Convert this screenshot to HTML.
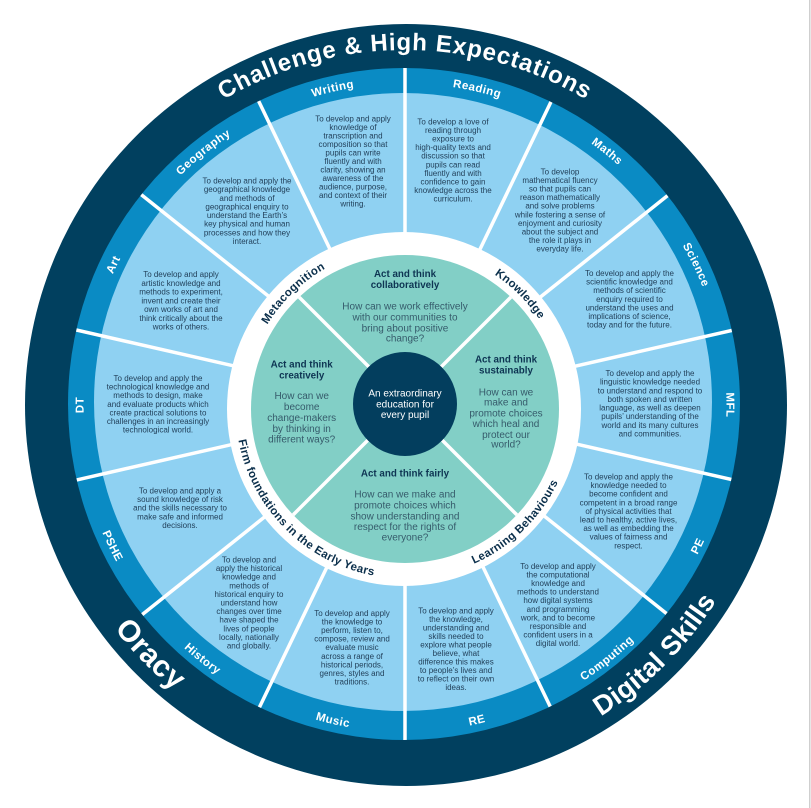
<!DOCTYPE html>
<html><head><meta charset="utf-8"><style>
html,body{margin:0;padding:0;background:#fff;}
svg{display:block;font-family:"Liberation Sans",Arial,sans-serif;}
.b{font-size:8px;fill:#22405a;text-anchor:middle;}
.tt{font-size:9.8px;font-weight:bold;fill:#0e3553;text-anchor:middle;}
.q{font-size:10px;fill:#365b6b;text-anchor:middle;}
.sl{font-size:11.5px;font-weight:bold;fill:#fff;letter-spacing:0.5px;}
.rl{font-size:11.5px;font-weight:bold;fill:#0b2f4b;letter-spacing:0.3px;}
.big{font-weight:bold;fill:#fff;}
</style></head><body>
<svg width="811" height="808" viewBox="0 0 811 808" xmlns="http://www.w3.org/2000/svg">
<defs>
<clipPath id="cm"><circle cx="404" cy="404" r="336"/></clipPath>
<clipPath id="ct"><circle cx="405" cy="409" r="154"/></clipPath>
<!-- segment label paths -->
<path id="sReading" d="M91.56,333.46 A321.5,321.5 0 0 1 718.44,476.54"/>
<path id="sMaths" d="M153.64,204.55 A321.5,321.5 0 0 1 656.36,605.45"/>
<path id="sScience" d="M265.51,115.34 A321.5,321.5 0 0 1 544.49,694.66"/>
<path id="sMFL" d="M405,83.5 A321.5,321.5 0 0 1 405,726.5"/>
<path id="sDT" d="M405,726.5 A321.5,321.5 0 0 1 405,83.5"/>
<path id="sArt" d="M265.51,694.66 A321.5,321.5 0 0 1 544.49,115.34"/>
<path id="sGeo" d="M153.64,605.45 A321.5,321.5 0 0 1 656.36,204.55"/>
<path id="sWriting" d="M91.56,476.54 A321.5,321.5 0 0 1 718.44,333.46"/>
<path id="sPE" d="M262.47,700.97 A328.5,328.5 0 0 0 547.53,109.03"/>
<path id="sComp" d="M148.17,609.82 A328.5,328.5 0 0 0 661.83,200.18"/>
<path id="sRE" d="M84.74,478.10 A328.5,328.5 0 0 0 725.26,331.90"/>
<path id="sMusic" d="M84.74,331.90 A328.5,328.5 0 0 0 725.26,478.10"/>
<path id="sHist" d="M148.17,200.18 A328.5,328.5 0 0 0 661.83,609.82"/>
<path id="sPSHE" d="M262.47,109.03 A328.5,328.5 0 0 0 547.53,700.97"/>
<!-- big outer labels -->
<path id="oTop" d="M50,405 A355,355 0 0 1 760,405"/>
<path id="oOracy" d="M147.5,142.1 A368,368 0 0 0 662.5,667.9"/>
<path id="oDigital" d="M144.8,665.2 A365,365 0 0 0 665.2,144.8"/>
<!-- inner ring labels -->
<path id="iMeta" d="M288.8,521.2 A161.5,161.5 0 0 1 521.2,296.8"/>
<path id="iKnow" d="M290.8,294.8 A161.5,161.5 0 0 1 519.2,523.2"/>
<path id="iLearn" d="M283.6,527.3 A169.5,169.5 0 0 0 526.4,290.7"/>
<path id="iFirm" d="M285.1,289.1 A169.5,169.5 0 0 0 524.9,528.9"/>
</defs>

<rect width="811" height="808" fill="#fff"/>
<rect x="809" y="0" width="1.5" height="808" fill="#cfcfcf"/>

<circle cx="406" cy="405" r="381" fill="#01405f"/>
<circle cx="404" cy="404" r="336" fill="#0a8bc4"/>
<circle cx="403" cy="402" r="309" fill="#8fd1f2"/>

<g clip-path="url(#cm)" stroke="#fff" stroke-width="3.5">
<line x1="405" y1="60" x2="405" y2="750"/>
<line x1="554.69" y1="94.17" x2="255.31" y2="715.83"/>
<line x1="674.73" y1="189.90" x2="135.27" y2="620.10"/>
<line x1="741.35" y1="328.23" x2="68.65" y2="481.77"/>
<line x1="741.35" y1="481.77" x2="68.65" y2="328.23"/>
<line x1="674.73" y1="620.10" x2="135.27" y2="189.90"/>
<line x1="554.69" y1="715.83" x2="255.31" y2="94.17"/>
</g>

<circle cx="404" cy="409" r="177" fill="#fff"/>
<circle cx="405" cy="409" r="154" fill="#82cfc6"/>
<g clip-path="url(#ct)" stroke="#fff" stroke-width="3.5">
<line x1="205" y1="203" x2="605" y2="603"/>
<line x1="605" y1="203" x2="205" y2="603"/>
</g>
<circle cx="405" cy="404" r="52" fill="#033e5e"/>

<!-- outer big labels -->
<text class="big" font-size="24" letter-spacing="0.9"><textPath href="#oTop" startOffset="50%" text-anchor="middle">Challenge &amp; High Expectations</textPath></text>
<text class="big" font-size="30" letter-spacing="0.5"><textPath href="#oOracy" startOffset="50%" text-anchor="middle">Oracy</textPath></text>
<text class="big" font-size="27" letter-spacing="0.3"><textPath href="#oDigital" startOffset="50%" text-anchor="middle">Digital Skills</textPath></text>

<!-- segment labels -->
<text class="sl"><textPath href="#sWriting" startOffset="50%" text-anchor="middle">Writing</textPath></text>
<text class="sl"><textPath href="#sReading" startOffset="50%" text-anchor="middle">Reading</textPath></text>
<text class="sl"><textPath href="#sMaths" startOffset="50%" text-anchor="middle">Maths</textPath></text>
<text class="sl"><textPath href="#sScience" startOffset="50%" text-anchor="middle">Science</textPath></text>
<text class="sl"><textPath href="#sMFL" startOffset="50%" text-anchor="middle">MFL</textPath></text>
<text class="sl"><textPath href="#sPE" startOffset="50%" text-anchor="middle">PE</textPath></text>
<text class="sl"><textPath href="#sComp" startOffset="50%" text-anchor="middle">Computing</textPath></text>
<text class="sl"><textPath href="#sRE" startOffset="50%" text-anchor="middle">RE</textPath></text>
<text class="sl"><textPath href="#sMusic" startOffset="50%" text-anchor="middle">Music</textPath></text>
<text class="sl"><textPath href="#sHist" startOffset="50%" text-anchor="middle">History</textPath></text>
<text class="sl"><textPath href="#sPSHE" startOffset="50%" text-anchor="middle">PSHE</textPath></text>
<text class="sl"><textPath href="#sDT" startOffset="50%" text-anchor="middle">DT</textPath></text>
<text class="sl"><textPath href="#sArt" startOffset="50%" text-anchor="middle">Art</textPath></text>
<text class="sl"><textPath href="#sGeo" startOffset="50%" text-anchor="middle">Geography</textPath></text>

<!-- inner ring labels -->
<text class="rl"><textPath href="#iMeta" startOffset="50%" text-anchor="middle">Metacognition</textPath></text>
<text class="rl"><textPath href="#iKnow" startOffset="50%" text-anchor="middle">Knowledge</textPath></text>
<text class="rl"><textPath href="#iLearn" startOffset="50%" text-anchor="middle">Learning Behaviours</textPath></text>
<text class="rl"><textPath href="#iFirm" startOffset="50%" text-anchor="middle">Firm foundations in the Early Years</textPath></text>

<!-- segment body text -->
<text class="b" y="121.5"><tspan x="353">To develop and apply</tspan><tspan x="353" dy="8.5">knowledge of</tspan><tspan x="353" dy="8.5">transcription and</tspan><tspan x="353" dy="8.5">composition so that</tspan><tspan x="353" dy="8.5">pupils can write</tspan><tspan x="353" dy="8.5">fluently and with</tspan><tspan x="353" dy="8.5">clarity, showing an</tspan><tspan x="353" dy="8.5">awareness of the</tspan><tspan x="353" dy="8.5">audience, purpose,</tspan><tspan x="353" dy="8.5">and context of their</tspan><tspan x="353" dy="8.5">writing.</tspan></text>

<text class="b" y="124.5"><tspan x="453">To develop a love of</tspan><tspan x="453" dy="8.56">reading through</tspan><tspan x="453" dy="8.56">exposure to</tspan><tspan x="453" dy="8.56">high-quality texts and</tspan><tspan x="453" dy="8.56">discussion so that</tspan><tspan x="453" dy="8.56">pupils can read</tspan><tspan x="453" dy="8.56">fluently and with</tspan><tspan x="453" dy="8.56">confidence to gain</tspan><tspan x="453" dy="8.56">knowledge across the</tspan><tspan x="453" dy="8.56">curriculum.</tspan></text>

<text class="b" y="174.5"><tspan x="560">To develop</tspan><tspan x="560" dy="8.56">mathematical fluency</tspan><tspan x="560" dy="8.56">so that pupils can</tspan><tspan x="560" dy="8.56">reason mathematically</tspan><tspan x="560" dy="8.56">and solve problems</tspan><tspan x="560" dy="8.56">while fostering a sense of</tspan><tspan x="560" dy="8.56">enjoyment and curiosity</tspan><tspan x="560" dy="8.56">about the subject and</tspan><tspan x="560" dy="8.56">the role it plays in</tspan><tspan x="560" dy="8.56">everyday life.</tspan></text>

<text class="b" y="183.5"><tspan x="247">To develop and apply the</tspan><tspan x="247" dy="8.64">geographical knowledge</tspan><tspan x="247" dy="8.64">and methods of</tspan><tspan x="247" dy="8.64">geographical enquiry to</tspan><tspan x="247" dy="8.64">understand the Earth’s</tspan><tspan x="247" dy="8.64">key physical and human</tspan><tspan x="247" dy="8.64">processes and how they</tspan><tspan x="247" dy="8.64">interact.</tspan></text>

<text class="b" y="277"><tspan x="181">To develop and apply</tspan><tspan x="181" dy="8.75">artistic knowledge and</tspan><tspan x="181" dy="8.75">methods to experiment,</tspan><tspan x="181" dy="8.75">invent and create their</tspan><tspan x="181" dy="8.75">own works of art and</tspan><tspan x="181" dy="8.75">think critically about the</tspan><tspan x="181" dy="8.75">works of others.</tspan></text>

<text class="b" y="276"><tspan x="629.5">To develop and apply the</tspan><tspan x="629.5" dy="8.6">scientific knowledge and</tspan><tspan x="629.5" dy="8.6">methods of scientific</tspan><tspan x="629.5" dy="8.6">enquiry required to</tspan><tspan x="629.5" dy="8.6">understand the uses and</tspan><tspan x="629.5" dy="8.6">implications of science,</tspan><tspan x="629.5" dy="8.6">today and for the future.</tspan></text>

<text class="b" y="381"><tspan x="158">To develop and apply the</tspan><tspan x="158" dy="8.6">technological knowledge and</tspan><tspan x="158" dy="8.6">methods to design, make</tspan><tspan x="158" dy="8.6">and evaluate products which</tspan><tspan x="158" dy="8.6">create practical solutions to</tspan><tspan x="158" dy="8.6">challenges in an increasingly</tspan><tspan x="158" dy="8.6">technological world.</tspan></text>

<text class="b" y="376"><tspan x="650">To develop and apply the</tspan><tspan x="650" dy="8.64">linguistic knowledge needed</tspan><tspan x="650" dy="8.64">to understand and respond to</tspan><tspan x="650" dy="8.64">both spoken and written</tspan><tspan x="650" dy="8.64">language, as well as deepen</tspan><tspan x="650" dy="8.64">pupils’ understanding of the</tspan><tspan x="650" dy="8.64">world and its many cultures</tspan><tspan x="650" dy="8.64">and communities.</tspan></text>

<text class="b" y="493.5"><tspan x="180">To develop and apply a</tspan><tspan x="180" dy="8.6">sound knowledge of risk</tspan><tspan x="180" dy="8.6">and the skills necessary to</tspan><tspan x="180" dy="8.6">make safe and informed</tspan><tspan x="180" dy="8.6">decisions.</tspan></text>

<text class="b" y="479.5"><tspan x="628.5">To develop and apply the</tspan><tspan x="628.5" dy="8.6">knowledge needed to</tspan><tspan x="628.5" dy="8.6">become confident and</tspan><tspan x="628.5" dy="8.6">competent in a broad range</tspan><tspan x="628.5" dy="8.6">of physical activities that</tspan><tspan x="628.5" dy="8.6">lead to healthy, active lives,</tspan><tspan x="628.5" dy="8.6">as well as embedding the</tspan><tspan x="628.5" dy="8.6">values of fairness and</tspan><tspan x="628.5" dy="8.6">respect.</tspan></text>

<text class="b" y="562.5"><tspan x="249">To develop and</tspan><tspan x="249" dy="8.6">apply the historical</tspan><tspan x="249" dy="8.6">knowledge and</tspan><tspan x="249" dy="8.6">methods of</tspan><tspan x="249" dy="8.6">historical enquiry to</tspan><tspan x="249" dy="8.6">understand how</tspan><tspan x="249" dy="8.6">changes over time</tspan><tspan x="249" dy="8.6">have shaped the</tspan><tspan x="249" dy="8.6">lives of people</tspan><tspan x="249" dy="8.6">locally, nationally</tspan><tspan x="249" dy="8.6">and globally.</tspan></text>

<text class="b" y="569"><tspan x="558">To develop and apply</tspan><tspan x="558" dy="8.56">the computational</tspan><tspan x="558" dy="8.56">knowledge and</tspan><tspan x="558" dy="8.56">methods to understand</tspan><tspan x="558" dy="8.56">how digital systems</tspan><tspan x="558" dy="8.56">and programming</tspan><tspan x="558" dy="8.56">work, and to become</tspan><tspan x="558" dy="8.56">responsible and</tspan><tspan x="558" dy="8.56">confident users in a</tspan><tspan x="558" dy="8.56">digital world.</tspan></text>

<text class="b" y="616"><tspan x="352">To develop and apply</tspan><tspan x="352" dy="8.56">the knowledge to</tspan><tspan x="352" dy="8.56">perform, listen to,</tspan><tspan x="352" dy="8.56">compose, review and</tspan><tspan x="352" dy="8.56">evaluate music</tspan><tspan x="352" dy="8.56">across a range of</tspan><tspan x="352" dy="8.56">historical periods,</tspan><tspan x="352" dy="8.56">genres, styles and</tspan><tspan x="352" dy="8.56">traditions.</tspan></text>

<text class="b" y="613.5"><tspan x="456">To develop and apply</tspan><tspan x="456" dy="8.5">the knowledge,</tspan><tspan x="456" dy="8.5">understanding and</tspan><tspan x="456" dy="8.5">skills needed to</tspan><tspan x="456" dy="8.5">explore what people</tspan><tspan x="456" dy="8.5">believe, what</tspan><tspan x="456" dy="8.5">difference this makes</tspan><tspan x="456" dy="8.5">to people’s lives and</tspan><tspan x="456" dy="8.5">to reflect on their own</tspan><tspan x="456" dy="8.5">ideas.</tspan></text>

<!-- teal quadrants -->
<text class="tt" y="277"><tspan x="405">Act and think</tspan><tspan x="405" dy="11">collaboratively</tspan></text>
<text class="q" y="309.3"><tspan x="405">How can we work effectively</tspan><tspan x="405" dy="11">with our communities to</tspan><tspan x="405" dy="11">bring about positive</tspan><tspan x="405" dy="10.3">change?</tspan></text>

<text class="tt" y="367.3"><tspan x="301.7">Act and think</tspan><tspan x="301.7" dy="11">creatively</tspan></text>
<text class="q" y="399"><tspan x="301.7">How can we</tspan><tspan x="301.7" dy="11">become</tspan><tspan x="301.7" dy="11">change-makers</tspan><tspan x="301.7" dy="11">by thinking in</tspan><tspan x="301.7" dy="10.6">different ways?</tspan></text>

<text class="tt" y="362.3"><tspan x="506">Act and think</tspan><tspan x="506" dy="11">sustainably</tspan></text>
<text class="q" y="395.3"><tspan x="506">How can we</tspan><tspan x="506" dy="10.4">make and</tspan><tspan x="506" dy="10.6">promote choices</tspan><tspan x="506" dy="10.7">which heal and</tspan><tspan x="506" dy="11">protect our</tspan><tspan x="506" dy="9.6">world?</tspan></text>

<text class="tt" y="476.3"><tspan x="405">Act and think fairly</tspan></text>
<text class="q" y="497.3"><tspan x="405">How can we make and</tspan><tspan x="405" dy="11">promote choices which</tspan><tspan x="405" dy="11">show understanding and</tspan><tspan x="405" dy="10.7">respect for the rights of</tspan><tspan x="405" dy="10.3">everyone?</tspan></text>

<!-- center -->
<text font-size="10" fill="#fff" text-anchor="middle" y="396.6"><tspan x="405">An extraordinary</tspan><tspan x="405" dy="10.7">education for</tspan><tspan x="405" dy="10.7">every pupil</tspan></text>
</svg>
</body></html>
